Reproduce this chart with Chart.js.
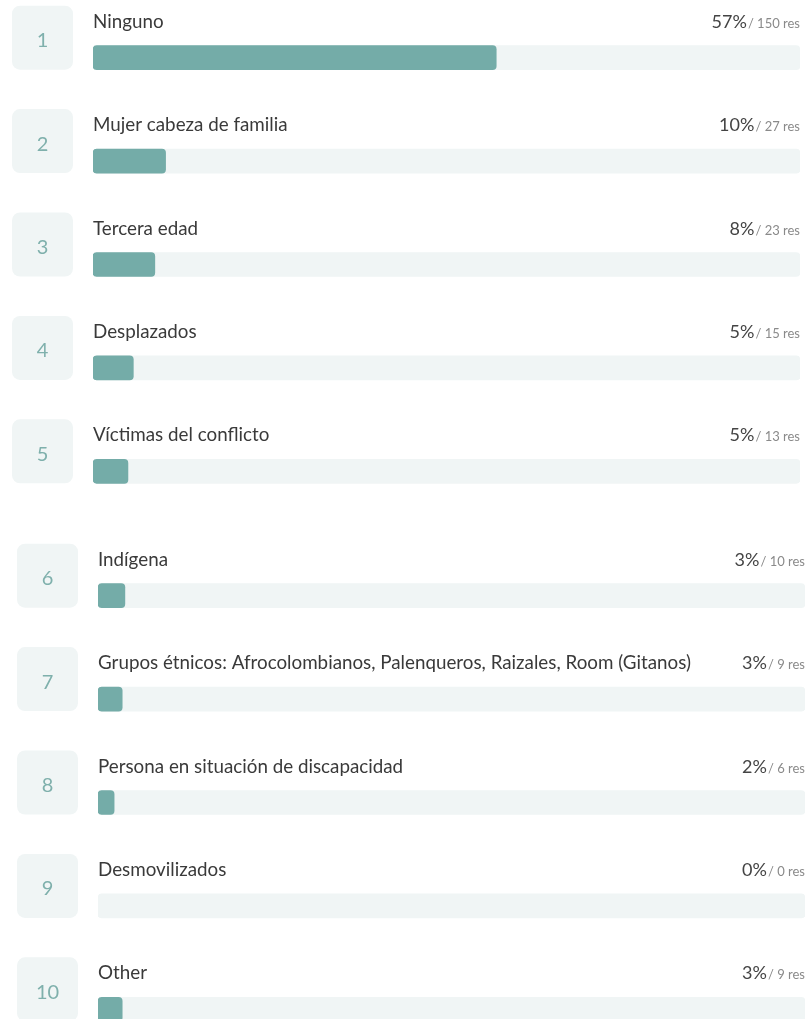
<!DOCTYPE html>
<html>
<head>
<meta charset="utf-8">
<script src="https://cdn.jsdelivr.net/npm/chart.js@4/dist/chart.umd.min.js"></script>
<style>
  html, body { margin: 0; padding: 0; background: #fff; overflow: hidden; }
  .block { position: absolute; left: 0; width: 808px; }
</style>
</head>
<body>
<div class="block" id="blockA" style="top:0; height:523px;"><canvas id="chartA"></canvas></div>
<div class="block" id="blockB" style="top:538px; height:523px;"><canvas id="chartB"></canvas></div>
<script>
// answers, in ranking order
const labels = [
  'Ninguno',
  'Mujer cabeza de familia',
  'Tercera edad',
  'Desplazados',
  'Víctimas del conflicto',
  'Indígena',
  'Grupos étnicos: Afrocolombianos, Palenqueros, Raizales, Room (Gitanos)',
  'Persona en situación de discapacidad',
  'Desmovilizados',
  'Other'
];
const responses = [150, 27, 23, 15, 13, 10, 9, 6, 0, 9];
const percents = [57, 10, 8, 5, 5, 3, 3, 2, 0, 3];
const totalResponses = 263;

const FONT = 'Lato, "Open Sans", sans-serif';
const TEAL = '#74aca8';
const TRACK = '#f0f5f5';

function roundRect(ctx, x, y, w, h, r) {
  ctx.beginPath();
  ctx.moveTo(x + r, y);
  ctx.arcTo(x + w, y, x + w, y + h, r);
  ctx.arcTo(x + w, y + h, x, y + h, r);
  ctx.arcTo(x, y + h, x, y, r);
  ctx.arcTo(x, y, x + w, y, r);
  ctx.closePath();
}

/* number boxes on the left, label above the bar, percent on the right */
const rowText = {
  id: 'rowText',
  afterDraw(chart, args, opts) {
    const ctx = chart.ctx;
    const area = chart.chartArea;
    const yScale = chart.scales.y;
    const first = opts.first;
    ctx.save();
    chart.data.labels.forEach((lab, i) => {
      const cy = yScale.getPixelForValue(i);
      const idx = first + i;

      // rank box
      ctx.fillStyle = TRACK;
      roundRect(ctx, area.left - 81, cy - 52, 61, 64, 8);
      ctx.fill();
      ctx.fillStyle = '#7fb0ac';
      ctx.font = '20px ' + FONT;
      ctx.textAlign = 'center';
      ctx.textBaseline = 'middle';
      ctx.fillText(String(idx + 1), area.left - 50.5, cy - 17);

      // answer label
      ctx.fillStyle = '#3a3a3a';
      ctx.font = '18.8px ' + FONT;
      ctx.textAlign = 'left';
      ctx.textBaseline = 'alphabetic';
      ctx.fillText(lab, area.left, cy - 30);

      // percent / responses
      const resTxt = '/ ' + responses[idx] + ' res';
      ctx.font = '13px ' + FONT;
      ctx.fillStyle = '#8a8a8a';
      ctx.textAlign = 'right';
      ctx.fillText(resTxt, area.right, cy - 30);
      const w = ctx.measureText(resTxt).width;
      ctx.font = '18px ' + FONT;
      ctx.fillStyle = '#444';
      ctx.fillText(percents[idx] + '%', area.right - w - 1, cy - 30);
    });
    ctx.restore();
  }
};

function makeChart(canvasId, first, last, leftPad) {
  const sliceLabels = labels.slice(first, last);
  return new Chart(document.getElementById(canvasId), {
    type: 'bar',
    data: {
      labels: sliceLabels,
      datasets: [
        {
          label: 'Respuestas',
          data: responses.slice(first, last),
          backgroundColor: (c) => c.raw === 0 ? 'rgba(0,0,0,0)' : TEAL,
          borderRadius: 4,
          borderSkipped: false,
          barThickness: 24,
          grouped: false,
          order: 1
        },
        {
          label: 'Total',
          data: sliceLabels.map(() => totalResponses),
          backgroundColor: TRACK,
          borderRadius: 4,
          borderSkipped: false,
          barThickness: 24,
          grouped: false,
          order: 2
        }
      ]
    },
    plugins: [rowText],
    options: {
      indexAxis: 'y',
      responsive: true,
      maintainAspectRatio: false,
      animation: false,
      layout: {
        padding: { top: 6, left: leftPad, right: 808 - leftPad - 707, bottom: 0 }
      },
      plugins: {
        legend: { display: false },
        tooltip: { enabled: false },
        rowText: { first: first }
      },
      scales: {
        x: { display: false, min: 0, max: totalResponses },
        y: { display: false }
      }
    }
  });
}

makeChart('chartA', 0, 5, 93);
makeChart('chartB', 5, 10, 98);
</script>
</body>
</html>
